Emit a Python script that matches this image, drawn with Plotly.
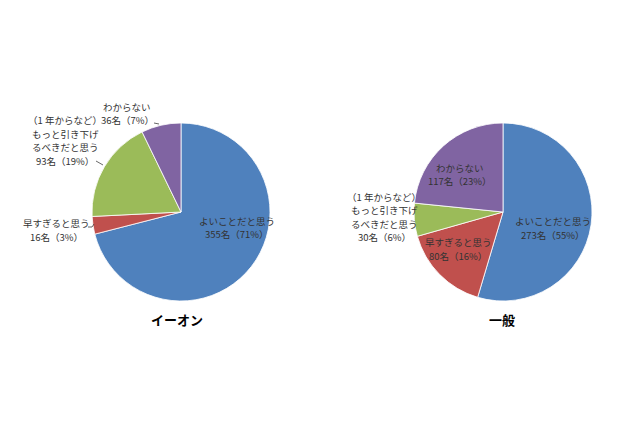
import plotly.graph_objects as go

W, H = 640, 426
OFF = 8  # page body margin shifts the figure by this much

# data
labels = ["よいことだと思う", "早すぎると思う", "（1 年からなど）<br>もっと引き下げ<br>るべきだと思う", "わからない"]
aeon_counts = [355, 16, 93, 36]
aeon_pct = [71, 3, 19, 7]
general_counts = [273, 80, 30, 117]
general_pct = [55, 16, 6, 23]
titles = ["イーオン", "一般"]

colors = ["#4F81BD", "#C0504D", "#9BBB59", "#8064A2"]
font_jp = "Noto Sans CJK JP"
LINE_H = 13.5


def px(x, y):
    # screenshot pixel -> paper coords
    return (x - OFF) / W, 1 - (y - OFF) / H


def dom(cx, cy, r):
    x0, y1 = px(cx - r, cy - r)
    x1, y0 = px(cx + r, cy + r)
    return dict(x=[x0, x1], y=[y0, y1])


fig = go.Figure()
for counts, (cx, cy) in [(aeon_counts, (181, 212)), (general_counts, (503, 212))]:
    fig.add_trace(go.Pie(
        values=counts, labels=labels, sort=False, direction="clockwise", rotation=0,
        marker=dict(colors=colors, line=dict(color="white", width=0.8)),
        textinfo="none", hoverinfo="label+value", domain=dom(cx, cy, 89), showlegend=False,
    ))

# label positions (pixel centre of text block)
aeon_pos = [(237, 227.5), (56, 230), (65, 140.5), (127, 113.5)]
gen_pos = [(553, 228), (458, 249), (384, 217), (460, 174.5)]

annos = []
for pos, counts, pct in [(aeon_pos, aeon_counts, aeon_pct), (gen_pos, general_counts, general_pct)]:
    for i, (x, y) in enumerate(pos):
        lines = labels[i].split("<br>") + [f"{counts[i]}名（{pct[i]}%）"]
        top = y - (len(lines) - 1) * LINE_H / 2
        for k, line in enumerate(lines):
            xx, yy = px(x, top + k * LINE_H)
            annos.append(dict(
                x=xx, y=yy, xref="paper", yref="paper", text=line,
                showarrow=False, xanchor="center", yanchor="middle",
                font=dict(family=font_jp, size=9.5, color="#333333"),
            ))

for t, (x, y) in zip(titles, [(177, 319), (502, 319)]):
    xx, yy = px(x, y)
    annos.append(dict(
        x=xx, y=yy, xref="paper", yref="paper", text=f"<b>{t}</b>", showarrow=False,
        xanchor="center", yanchor="middle", font=dict(family=font_jp, size=13, color="black"),
    ))

# leader lines on the left pie
shapes = []
for (x0, y0), (x1, y1) in [((154, 123), (159, 124)), ((96, 161), (103, 165)),
                           ((88, 227), (92, 227)), ((92, 227), (94, 224))]:
    a, b = px(x0, y0)
    c, d = px(x1, y1)
    shapes.append(dict(type="line", xref="paper", yref="paper", x0=a, y0=b, x1=c, y1=d,
                       line=dict(color="#404040", width=0.8)))

fig.update_layout(
    width=W, height=H, margin=dict(l=0, r=0, t=0, b=0),
    paper_bgcolor="white", plot_bgcolor="white",
    annotations=annos, shapes=shapes,
)

fig.write_html("out.html")
